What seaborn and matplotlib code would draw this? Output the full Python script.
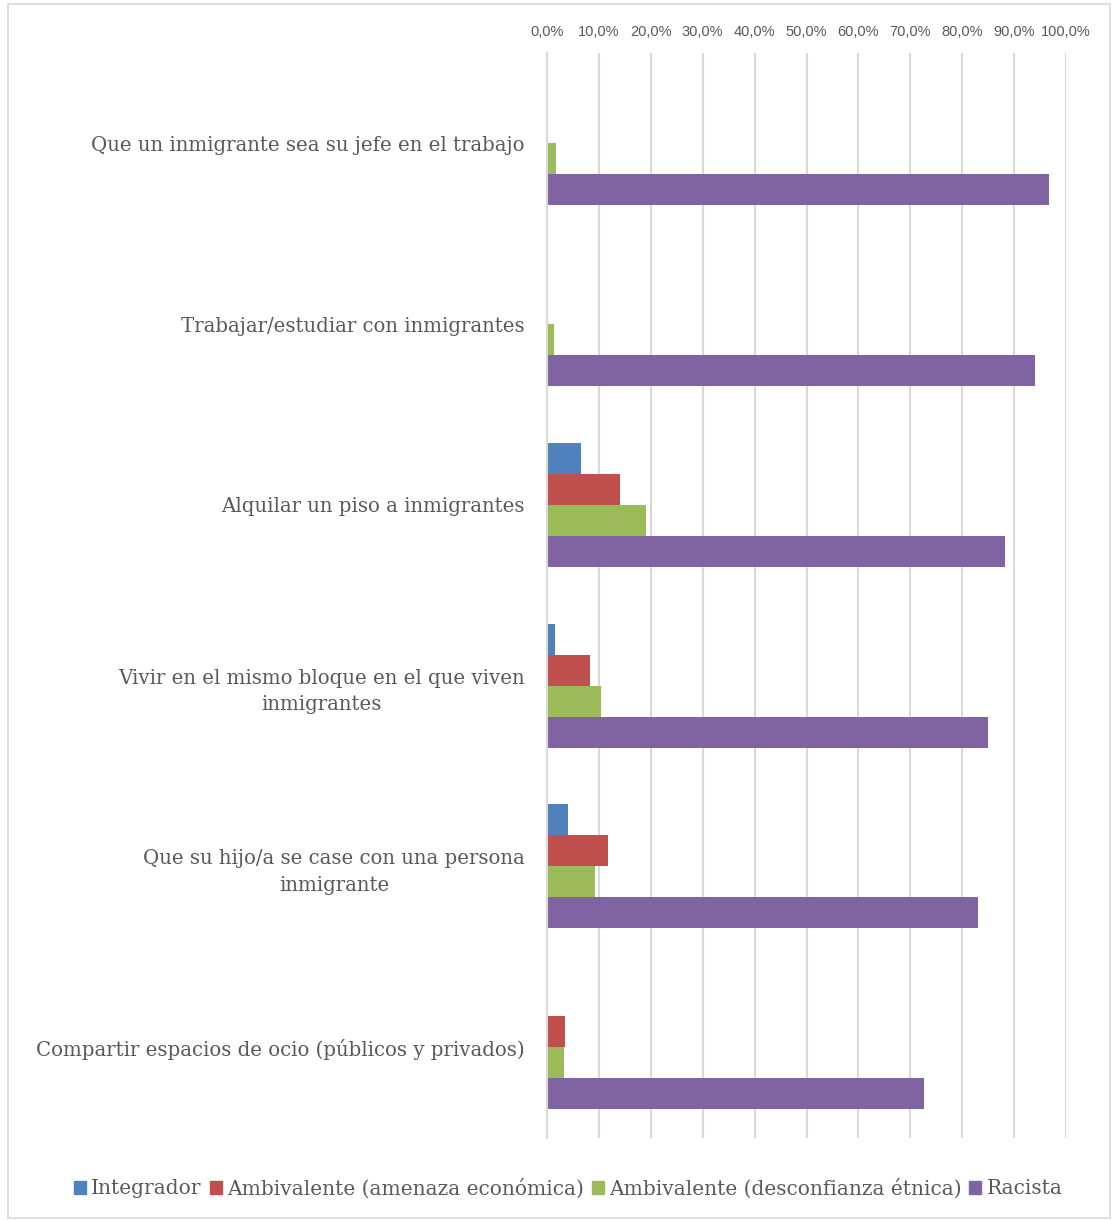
import pandas as pd
import numpy as np
import matplotlib.pyplot as plt
import matplotlib.patches as mpatches
import seaborn as sns


# Data (percent)

categories = [
    "Que un inmigrante sea su jefe en el trabajo",
    "Trabajar/estudiar con inmigrantes",
    "Alquilar un piso a inmigrantes",
    "Vivir en el mismo bloque en el que viven\ninmigrantes",
    "Que su hijo/a se case con una persona\ninmigrante",
    "Compartir espacios de ocio (públicos y privados)",
]
series = [
    "Integrador",
    "Ambivalente (amenaza económica)",
    "Ambivalente (desconfianza étnica)",
    "Racista",
]
integrador = [0.0, 0.1, 6.5, 1.5, 4.1, 0.1]
amenaza = [0.0, 0.0, 14.1, 8.3, 11.8, 3.4]
desconfianza = [1.7, 1.3, 19.1, 10.4, 9.2, 3.3]
racista = [96.8, 94.1, 88.3, 85.0, 83.1, 72.7]
x_ticks = list(range(0, 101, 10))

colors = ["#4F81BD", "#C0504D", "#9BBB59", "#8064A2"]


# Long-form table for seaborn
values = [integrador, amenaza, desconfianza, racista]
rows = []
for s, vals in zip(series, values):
    for c, v in zip(categories, vals):
        rows.append({"categoria": c, "serie": s, "valor": v})
df = pd.DataFrame(rows)


# ----------------------------------------------------------------
# Plot

sns.set_style("white")
plt.rcParams["font.family"] = ["DejaVu Serif", "Liberation Serif"]

fig = plt.figure(figsize=(11.14, 12.20), dpi=100)
ax = fig.add_axes([0.491, 0.0676, 0.466, 0.889])

sns.barplot(
    data=df, y="categoria", x="valor", hue="serie",
    order=categories, hue_order=series, palette=colors,
    orient="h", width=0.685, gap=0, saturation=1,
    edgecolor="none", linewidth=0, ax=ax, legend=False,
)

ax.set_xlim(0, 100)
ax.set_xticks(x_ticks)
ax.xaxis.tick_top()
ax.set_xticklabels([f"{t:.1f}%".replace(".", ",") for t in x_ticks],
                   family=["Liberation Sans Narrow", "Liberation Sans", "DejaVu Sans"],
                   fontsize=10.5, color="#595959")
ax.tick_params(axis="x", length=0, pad=10)
ax.tick_params(axis="y", length=0, pad=16, labelsize=14.2, labelcolor="#595959")
for lbl in ax.get_yticklabels():
    lbl.set_multialignment("center")
    lbl.set_linespacing(1.5)

ax.set_xlabel("")
ax.set_ylabel("")
ax.grid(axis="x", color="#D9D9D9", linewidth=1.5)
ax.set_axisbelow(True)
for side in ["top", "right", "bottom"]:
    ax.spines[side].set_visible(False)
ax.spines["left"].set_color("#D9D9D9")
ax.spines["left"].set_linewidth(1.5)

# Legend at the bottom
handles = [mpatches.Patch(color=c, label=s) for c, s in zip(colors, series)]
fig.legend(handles=handles, loc="center", bbox_to_anchor=(0.51, 0.026), ncol=4,
           frameon=False, fontsize=14.5, handlelength=0.6, handleheight=0.6,
           handletextpad=0.25, columnspacing=0.4, labelcolor="#595959")

# Light border around the whole chart
fig.patches.append(mpatches.Rectangle((0.007, 0.002), 0.989, 0.995, transform=fig.transFigure,
                                      fill=False, edgecolor="#D9D9D9", linewidth=1.2))

fig.savefig("out.png", dpi=100)
